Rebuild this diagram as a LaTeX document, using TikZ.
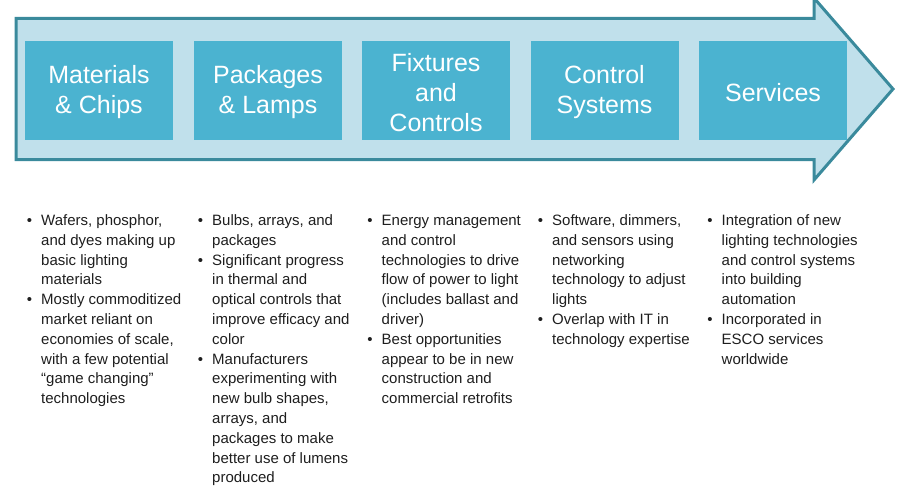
\documentclass[tikz,border=0pt]{standalone}
\usepackage{fontspec}
\setmainfont{Liberation Sans}
\definecolor{arrowline}{HTML}{3A8A9C}
\definecolor{arrowfill}{HTML}{C0E0EB}
\definecolor{boxfill}{HTML}{4BB3D0}
\definecolor{txt}{HTML}{1E1E1E}
\newcommand{\bul}{\noindent\llap{\textbullet\hspace{9pt}}}
\begin{document}
\begin{tikzpicture}[x=1pt,y=-1pt,
  stage/.style={fill=boxfill,text=white,minimum width=148pt,minimum height=99pt,inner sep=0pt,align=center,font=\fontsize{25}{30}\selectfont},
  label/.style={stage,fill=none,minimum height=0pt},
  col/.style={anchor=base west,inner sep=0pt,text=txt,font=\fontsize{15}{19.8}\selectfont}]
\useasboundingbox (0,0) rectangle (910,500);
% big arrow
\draw[line width=3pt,draw=arrowline,fill=arrowfill,line join=miter]
  (16,18.5) -- (814,18.5) -- (814,-2) -- (893,89) -- (814,180) -- (814,159.5) -- (16,159.5) -- cycle;
% stage boxes
\node[stage] (s1) at (99,90.5) {};
\node[stage] (s2) at (268,90.5) {};
\node[stage] (s3) at (436,90.5) {};
\node[stage] (s4) at (604.5,90.5) {};
\node[stage] (s5) at (773,90.5) {};
\node[label] (t1) at ([yshift=-2pt]s1.center) {Materials\\\& Chips};
\node[label] (t2) at ([yshift=-2pt]s2.center) {Packages\\\& Lamps};
\node[label] (t3) at ([yshift=-2pt]s3.center) {Fixtures\\and\\Controls};
\node[label] (t4) at ([yshift=-2pt]s4.center) {Control\\Systems};
\node[label] (t5) at ([yshift=-2pt]s5.center) {Services};
% bullet columns
\node[col] (c1) at (41,225.5) {\begin{minipage}[t]{165pt}\setlength{\baselineskip}{19.8pt}\raggedright
\bul Wafers, phosphor,\\and dyes making up\\basic lighting\\materials\par
\bul Mostly commoditized\\market reliant on\\economies of scale,\\with a few potential\\“game changing”\\technologies\end{minipage}};
\node[col] (c2) at (212,225.5) {\begin{minipage}[t]{165pt}\setlength{\baselineskip}{19.8pt}\raggedright
\bul Bulbs, arrays, and\\packages\par
\bul Significant progress\\in thermal and\\optical controls that\\improve efficacy and\\color\par
\bul Manufacturers\\experimenting with\\new bulb shapes,\\arrays, and\\packages to make\\better use of lumens\\produced\end{minipage}};
\node[col] (c3) at (381.5,225.5) {\begin{minipage}[t]{165pt}\setlength{\baselineskip}{19.8pt}\raggedright
\bul Energy management\\and control\\technologies to drive\\flow of power to light\\(includes ballast and\\driver)\par
\bul Best opportunities\\appear to be in new\\construction and\\commercial retrofits\end{minipage}};
\node[col] (c4) at (552,225.5) {\begin{minipage}[t]{165pt}\setlength{\baselineskip}{19.8pt}\raggedright
\bul Software, dimmers,\\and sensors using\\networking\\technology to adjust\\lights\par
\bul Overlap with IT in\\technology expertise\end{minipage}};
\node[col] (c5) at (721.5,225.5) {\begin{minipage}[t]{165pt}\setlength{\baselineskip}{19.8pt}\raggedright
\bul Integration of new\\lighting technologies\\and control systems\\into building\\automation\par
\bul Incorporated in\\ESCO services\\worldwide\end{minipage}};
\end{tikzpicture}
\end{document}
